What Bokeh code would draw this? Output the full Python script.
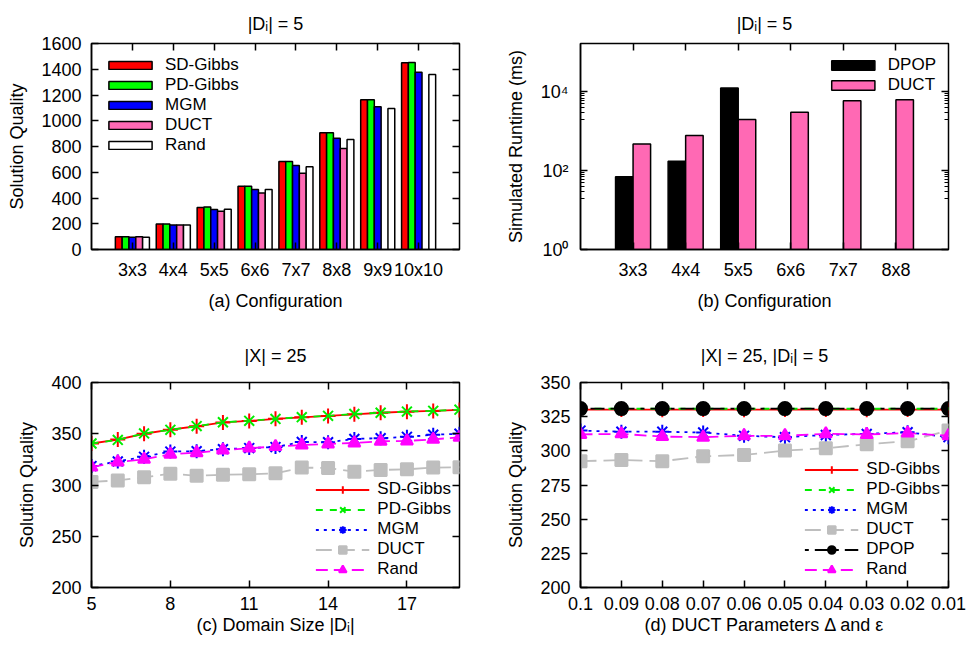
import numpy as np
from bokeh.plotting import figure
from bokeh.layouts import gridplot
from bokeh.models import (Range1d, FixedTicker, LinearAxis, LogAxis,
                          CustomJSTickFormatter, Legend, LegendItem, ColumnDataSource)
from bokeh.embed import file_html
from bokeh.resources import INLINE

FONT = "Liberation Sans"
FS = "18px"
NAN = float("nan")

# ---------------- data ----------------
# (a) solution quality vs configuration
configs_a = ["3x3", "4x4", "5x5", "6x6", "7x7", "8x8", "9x9", "10x10"]
sd_gibbs_a = [100, 198, 326, 492, 684, 907, 1163, 1451]
pd_gibbs_a = [100, 198, 331, 492, 684, 907, 1163, 1453]
mgm_a = [95, 190, 311, 466, 653, 865, 1109, 1376]
duct_a = [100, 190, 298, 438, 593, 785, NAN, NAN]
rand_a = [95, 190, 313, 466, 642, 855, 1096, 1360]

# (b) simulated runtime (ms)
configs_b = ["3x3", "4x4", "5x5", "6x6", "7x7", "8x8"]
dpop_b = [70, 175, 12600, NAN, NAN, NAN]
duct_b = [480, 780, 2000, 3070, 6000, 6300]

# (c) solution quality vs domain size
domain_c = [5, 6, 7, 8, 9, 10, 11, 12, 13, 14, 15, 16, 17, 18, 19]
sd_gibbs_c = [340.5, 344.3, 350, 354, 357.3, 361, 362.5, 364.6, 366, 367.4, 369, 370.5, 371.5, 372.3, 373.2]
pd_gibbs_c = [340.5, 344, 350.3, 353.8, 357.5, 361.2, 362.6, 364.5, 366.2, 367.5, 369.3, 370.5, 371.6, 372.4, 373.5]
mgm_c = [318.5, 323, 327.5, 332.6, 333, 335, 336, 337, 342, 341.7, 345, 345.6, 347, 349, 350]
duct_c = [303, 304.5, 307.5, 311, 309, 310, 310.4, 311.4, 317, 316.6, 313, 314.7, 315.3, 317, 317.3]
rand_c = [317.5, 322.5, 325, 330, 331.5, 334, 336, 337.5, 339, 340, 341, 342.7, 343, 344.5, 346.6]

# (d) solution quality vs DUCT parameters
params_d = ["0.1", "0.09", "0.08", "0.07", "0.06", "0.05", "0.04", "0.03", "0.02", "0.01"]
sd_gibbs_d = [330.2, 330.2, 330.1, 330.2, 330.1, 330.2, 330.2, 330.1, 330.2, 330.2]
pd_gibbs_d = [330.8, 330.8, 330.8, 330.8, 330.8, 330.8, 330.8, 330.8, 330.8, 330.8]
mgm_d = [314.8, 314, 314, 313.4, 311, 310, 311.6, 312.4, 313.6, 310]
duct_d = [292.4, 293.3, 292.4, 296, 297, 300.2, 301.9, 304.8, 307, 314.8]
dpop_d = [330.9, 330.9, 330.9, 330.9, 330.9, 330.9, 330.9, 330.9, 330.9, 330.9]
rand_d = [312, 312.4, 310.4, 310, 311, 311, 312.4, 312, 313, 311]


# ---------------- helpers ----------------
def style(p, xlabel, ylabel, title_standoff=20):
    p.title.text_font = FONT
    p.title.text_font_size = FS
    p.title.text_font_style = "normal"
    p.title.text_color = "black"
    p.title.align = "center"
    p.title.standoff = title_standoff
    p.grid.visible = False
    p.outline_line_color = "black"
    p.outline_line_width = 1.5
    p.outline_line_alpha = 1
    p.xaxis.axis_label = xlabel
    p.yaxis.axis_label = ylabel
    for ax in list(p.xaxis) + list(p.yaxis):
        ax.axis_label_text_font = FONT
        ax.axis_label_text_font_size = FS
        ax.axis_label_text_font_style = "normal"
        ax.axis_label_text_color = "black"
        ax.major_label_text_font = FONT
        ax.major_label_text_font_size = FS
        ax.major_label_text_color = "black"
        ax.major_tick_in = 7
        ax.major_tick_out = 0
        ax.minor_tick_in = 0
        ax.minor_tick_out = 0
        ax.major_tick_line_color = "black"
        ax.major_tick_line_width = 1.5
        ax.axis_line_color = "black"
        ax.axis_line_width = 1.5
        ax.major_label_standoff = 10


EMPTY = CustomJSTickFormatter(code="return '';")


def mirrors(p, xticker, yticker, ylog=False, yminor=False):
    top = LinearAxis(ticker=xticker, formatter=EMPTY)
    right = (LogAxis(ticker=yticker, formatter=EMPTY) if ylog
             else LinearAxis(ticker=yticker, formatter=EMPTY))
    for ax in (top, right):
        ax.major_label_standoff = 0
        ax.major_tick_in = 7
        ax.major_tick_out = 0
        ax.minor_tick_in = 0
        ax.minor_tick_out = 0
        ax.major_tick_line_color = "black"
        ax.major_tick_line_width = 1.5
        ax.axis_line_color = None
    if yminor:
        right.minor_tick_in = 4
        right.minor_tick_line_color = "black"
        right.minor_tick_line_width = 1
    p.add_layout(top, "above")
    p.add_layout(right, "right")


def add_legend(p, items, location, glyph_h=12, margin=8):
    lg = Legend(items=items, location=location, label_text_font=FONT,
                label_text_font_size="17px", label_text_color="black",
                border_line_alpha=0, background_fill_alpha=0, glyph_width=54,
                glyph_height=glyph_h, label_height=18, spacing=0, padding=4,
                margin=margin, label_standoff=8)
    p.add_layout(lg, "center")


def cat_formatter(labels):
    return CustomJSTickFormatter(args=dict(labels=labels), code="""
        const i = Math.round(tick);
        return (i >= 0 && i < labels.length) ? labels[i] : '';
    """)


# ---------------- (a) ----------------
pa = figure(frame_width=368, frame_height=206, min_border_left=91, min_border_right=29,
            min_border_top=43, min_border_bottom=71, x_range=Range1d(-1, len(configs_a)),
            y_range=Range1d(0, 1600), title="|Dᵢ| = 5",
            output_backend="svg", toolbar_location=None)
xa_ticker = FixedTicker(ticks=list(range(len(configs_a))))
ya_ticker = FixedTicker(ticks=[0, 200, 400, 600, 800, 1000, 1200, 1400, 1600])
pa.xaxis.ticker = xa_ticker
pa.xaxis.formatter = cat_formatter(configs_a)
pa.yaxis.ticker = ya_ticker
style(pa, "(a) Configuration", "Solution Quality")
pa.yaxis.axis_label_standoff = 11
pa.xaxis.axis_label_standoff = 8

series_a = [("SD-Gibbs", sd_gibbs_a, "#ff0000"), ("PD-Gibbs", pd_gibbs_a, "#00ff00"),
            ("MGM", mgm_a, "#0000ff"), ("DUCT", duct_a, "#ff69b4"), ("Rand", rand_a, "#ffffff")]
wa = 1.0 / 6
items = []
xa = np.arange(len(configs_a))
for k, (name, vals, color) in enumerate(series_a):
    v = np.array(vals, dtype=float)
    m = ~np.isnan(v)
    src = ColumnDataSource(dict(x=xa[m] + (k - 2) * wa, top=v[m]))
    r = pa.vbar(x="x", top="top", bottom=0, width=wa, source=src,
                fill_color=color, line_color="black", line_width=1.5)
    items.append(LegendItem(label=name, renderers=[r]))
add_legend(pa, items, "top_left", glyph_h=10)
mirrors(pa, xa_ticker, ya_ticker)

# ---------------- (b) ----------------
pb = figure(frame_width=368, frame_height=206, min_border_left=92, min_border_right=19,
            min_border_top=43, min_border_bottom=71, x_range=Range1d(-1, len(configs_b)),
            y_range=Range1d(1, 170000), y_axis_type="log", title="|Dᵢ| = 5",
            output_backend="svg", toolbar_location=None)
xb_ticker = FixedTicker(ticks=list(range(len(configs_b))))
yb_ticker = FixedTicker(ticks=[1, 100, 10000],
                        minor_ticks=[20, 30, 40, 50, 60, 70, 80, 90,
                                     2000, 3000, 4000, 5000, 6000, 7000, 8000, 9000])
pb.xaxis.ticker = xb_ticker
pb.xaxis.formatter = cat_formatter(configs_b)
pb.yaxis.ticker = yb_ticker
pb.yaxis.formatter = CustomJSTickFormatter(code="""
    const sup = ['\u2070','\u00b9','\u00b2','\u00b3','\u2074','\u2075','\u2076','\u2077','\u2078','\u2079'];
    const e = Math.round(Math.log10(tick));
    return '10' + String(e).split('').map(c => sup[+c]).join('');
""")
style(pb, "(b) Configuration", "Simulated Runtime (ms)")
pb.yaxis.minor_tick_in = 4
pb.yaxis.minor_tick_line_color = "black"
pb.yaxis.minor_tick_line_width = 1
pb.yaxis.major_label_standoff = 12
pb.yaxis.axis_label_standoff = 12
pb.xaxis.axis_label_standoff = 8

xb = np.arange(len(configs_b))
items = []
for k, (name, vals, color) in enumerate([("DPOP", dpop_b, "#000000"), ("DUCT", duct_b, "#ff69b4")]):
    v = np.array(vals, dtype=float)
    m = ~np.isnan(v)
    src = ColumnDataSource(dict(x=xb[m] + (k - 0.5) / 3.0, top=v[m]))
    r = pb.vbar(x="x", top="top", bottom=1, width=1.0 / 3, source=src,
                fill_color=color, line_color="black", line_width=1.5)
    items.append(LegendItem(label=name, renderers=[r]))
add_legend(pb, items, "top_right", glyph_h=12)
mirrors(pb, xb_ticker, yb_ticker, ylog=True, yminor=True)


# ---------------- line series helper ----------------
def line_series(p, x, y, color, dash, marker, size, fill=True):
    src = ColumnDataSource(dict(x=x, y=y))
    r1 = p.line("x", "y", source=src, line_color=color, line_width=1.8, line_dash=dash)
    r2 = p.scatter("x", "y", source=src, marker=marker, size=size, line_color=color,
                   line_width=2, fill_color=color if fill else None)
    return [r1, r2]


# ---------------- (c) ----------------
pc = figure(frame_width=368, frame_height=205, min_border_left=91, min_border_right=29,
            min_border_top=62, min_border_bottom=58, x_range=Range1d(5, 19),
            y_range=Range1d(200, 400), title="|X| = 25",
            output_backend="svg", toolbar_location=None)
xc_ticker = FixedTicker(ticks=[5, 8, 11, 14, 17])
yc_ticker = FixedTicker(ticks=[200, 250, 300, 350, 400])
pc.xaxis.ticker = xc_ticker
pc.yaxis.ticker = yc_ticker
style(pc, "(c) Domain Size |Dᵢ|", "Solution Quality", title_standoff=34)
pc.xaxis.major_label_standoff = 9
pc.xaxis.axis_label_standoff = 2
pc.yaxis.axis_label_standoff = 11

items = [
    LegendItem(label="SD-Gibbs", renderers=line_series(pc, domain_c, sd_gibbs_c, "#ff0000", "solid", "cross", 15)),
    LegendItem(label="PD-Gibbs", renderers=line_series(pc, domain_c, pd_gibbs_c, "#00ee00", "7 7", "x", 14)),
    LegendItem(label="MGM", renderers=line_series(pc, domain_c, mgm_c, "#0000ff", "3 5", "asterisk", 14)),
    LegendItem(label="DUCT", renderers=line_series(pc, domain_c, duct_c, "#bebebe", "16 7", "square", 12)),
    LegendItem(label="Rand", renderers=line_series(pc, domain_c, rand_c, "#ff00ff", "12 6", "triangle", 12)),
]
add_legend(pc, items, "bottom_right", glyph_h=19, margin=4)
mirrors(pc, xc_ticker, yc_ticker)

# ---------------- (d) ----------------
pd_ = figure(frame_width=368, frame_height=205, min_border_left=92, min_border_right=19,
             min_border_top=62, min_border_bottom=58, x_range=Range1d(0, len(params_d) - 1),
             y_range=Range1d(200, 350), title="|X| = 25, |Dᵢ| = 5",
             output_backend="svg", toolbar_location=None)
xd_ticker = FixedTicker(ticks=list(range(len(params_d))))
yd_ticker = FixedTicker(ticks=[200, 225, 250, 275, 300, 325, 350])
pd_.xaxis.ticker = xd_ticker
pd_.xaxis.formatter = cat_formatter(params_d)
pd_.yaxis.ticker = yd_ticker
style(pd_, "(d) DUCT Parameters Δ and ε", "Solution Quality", title_standoff=34)
pd_.xaxis.major_label_standoff = 9
pd_.xaxis.axis_label_standoff = 2
pd_.yaxis.axis_label_standoff = 11

xd = list(range(len(params_d)))
items = [
    LegendItem(label="SD-Gibbs", renderers=line_series(pd_, xd, sd_gibbs_d, "#ff0000", "solid", "cross", 15)),
    LegendItem(label="PD-Gibbs", renderers=line_series(pd_, xd, pd_gibbs_d, "#00ee00", "7 7", "x", 14)),
    LegendItem(label="MGM", renderers=line_series(pd_, xd, mgm_d, "#0000ff", "3 5", "asterisk", 14)),
    LegendItem(label="DUCT", renderers=line_series(pd_, xd, duct_d, "#bebebe", "16 7", "square", 12)),
    LegendItem(label="DPOP", renderers=line_series(pd_, xd, dpop_d, "#000000", "4 6 14 6", "circle", 13)),
    LegendItem(label="Rand", renderers=line_series(pd_, xd, rand_d, "#ff00ff", "12 6", "triangle", 12)),
]
add_legend(pd_, items, "bottom_right", glyph_h=19, margin=4)
mirrors(pd_, xd_ticker, yd_ticker)

grid = gridplot([[pa, pb], [pc, pd_]], toolbar_location=None)

with open("out.html", "w", encoding="utf-8") as f:
    f.write(file_html(grid, INLINE))
